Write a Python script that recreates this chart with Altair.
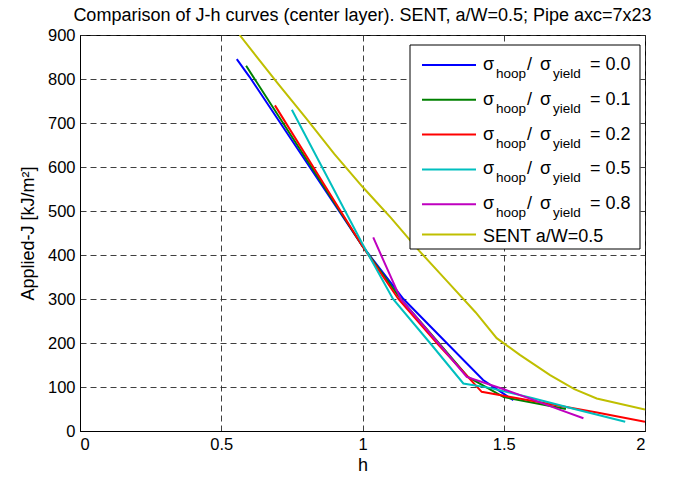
import altair as alt
import pandas as pd

# ---- data ----
h_blue = [0.555, 0.60, 1.0, 1.145, 1.298, 1.427, 1.534]
J_blue = [845, 805, 420, 300, 200, 116, 70]

h_green = [0.588, 1.0, 1.135, 1.27, 1.373, 1.50, 1.72]
J_green = [830, 420, 300, 200, 123, 77, 50]

h_red = [0.69, 1.0, 1.127, 1.263, 1.422, 1.50, 1.83, 2.0]
J_red = [740, 420, 300, 200, 89, 80, 42, 21]

h_cyan = [0.75, 1.0, 1.108, 1.239, 1.357, 1.45, 1.60, 1.75, 1.93]
J_cyan = [730, 425, 300, 200, 108, 98, 75, 50, 21]

h_mag = [1.038, 1.135, 1.268, 1.369, 1.50, 1.60, 1.70, 1.782]
J_mag = [440, 300, 200, 123, 95, 72, 48, 29]

h_sent = [0.565, 0.70, 0.80, 0.90, 1.0, 1.05, 1.10, 1.20, 1.30, 1.40, 1.475, 1.557, 1.664, 1.75, 1.829, 2.0]
J_sent = [900, 790, 711, 630, 555, 520, 485, 410, 340, 270, 211, 173, 127, 95, 74, 49]

ratios = ["0.0", "0.1", "0.2", "0.5", "0.8"]
sent_label = "SENT a/W=0.5"
colors = ["#0000FF", "#008000", "#FF0000", "#00BFBF", "#BF00BF", "#BFBF00"]

series = [
    (h_blue, J_blue), (h_green, J_green), (h_red, J_red),
    (h_cyan, J_cyan), (h_mag, J_mag), (h_sent, J_sent),
]

FONT = "Liberation Sans"
W, H = 565, 396

xs = alt.Scale(domain=[0, 2])
ys = alt.Scale(domain=[0, 900])

layers = []
for i, ((hh, jj), c) in enumerate(zip(series, colors)):
    df = pd.DataFrame({"h": hh, "J": jj, "k": range(len(hh))})
    lay = alt.Chart(df).mark_line(color=c, strokeWidth=2, clip=True).encode(
        x=alt.X("h:Q", scale=xs, title="h",
                axis=alt.Axis(values=[0, 0.5, 1, 1.5, 2], labelExpr="format(datum.value, '~g')")),
        y=alt.Y("J:Q", scale=ys, title="Applied-J [kJ/m²]",
                axis=alt.Axis(values=list(range(0, 901, 100)))),
        order="k:O",
    )
    layers.append(lay)

# ---- custom legend (MATLAB style with sub-scripts) ----
one = pd.DataFrame({"a": [0]})
box = alt.Chart(one).mark_rect(fill="white", stroke="black", strokeWidth=1).encode(
    x=alt.value(330), x2=alt.value(560), y=alt.value(10), y2=alt.value(214))
layers.append(box)

row_y = [30 + 34.8 * i for i in range(5)] + [199.5]
for i, c in enumerate(colors):
    ry = row_y[i]
    layers.append(alt.Chart(one).mark_rule(color=c, strokeWidth=2).encode(
        x=alt.value(342), x2=alt.value(396), y=alt.value(ry)))
    if i < 5:
        parts = [
            (403, ry + 5, "σ", 18),
            (416, ry + 13, "hoop", 13.5),
            (447, ry + 5, "/", 18),
            (460, ry + 5, "σ", 18),
            (473, ry + 13, "yield", 13.5),
            (510, ry + 5, "= " + ratios[i], 18),
        ]
    else:
        parts = [(403, ry + 7, sent_label, 18)]
    for (px, py, txt, fs) in parts:
        layers.append(alt.Chart(one).mark_text(
            text=txt, font=FONT, fontSize=fs, align="left", baseline="alphabetic",
            color="black").encode(x=alt.value(px), y=alt.value(py)))

chart = alt.layer(*layers).properties(
    width=W, height=H,
    autosize="none",
    padding={"left": 80, "top": 35, "right": 28, "bottom": 46},
    title=alt.TitleParams(
        "Comparison of J-h curves (center layer). SENT, a/W=0.5; Pipe axc=7x23",
        font=FONT, fontSize=18, fontWeight="normal", color="black",
        anchor="middle", frame="group", offset=2),
).configure_view(
    stroke="black", strokeWidth=1
).configure_axis(
    labelFont=FONT, labelFontSize=16.5, labelColor="black",
    titleFont=FONT, titleFontSize=18, titleFontWeight="normal", titleColor="black",
    grid=True, gridColor="#2a2a2a", gridDash=[6, 4], gridWidth=1, gridOpacity=0.9,
    domainColor="black", domainWidth=1, ticks=False, labelPadding=5,
).configure_axisX(
    titlePadding=4
).configure_axisY(
    titlePadding=10
)

chart.save("out.html", embed_options={"renderer": "svg", "actions": False})
